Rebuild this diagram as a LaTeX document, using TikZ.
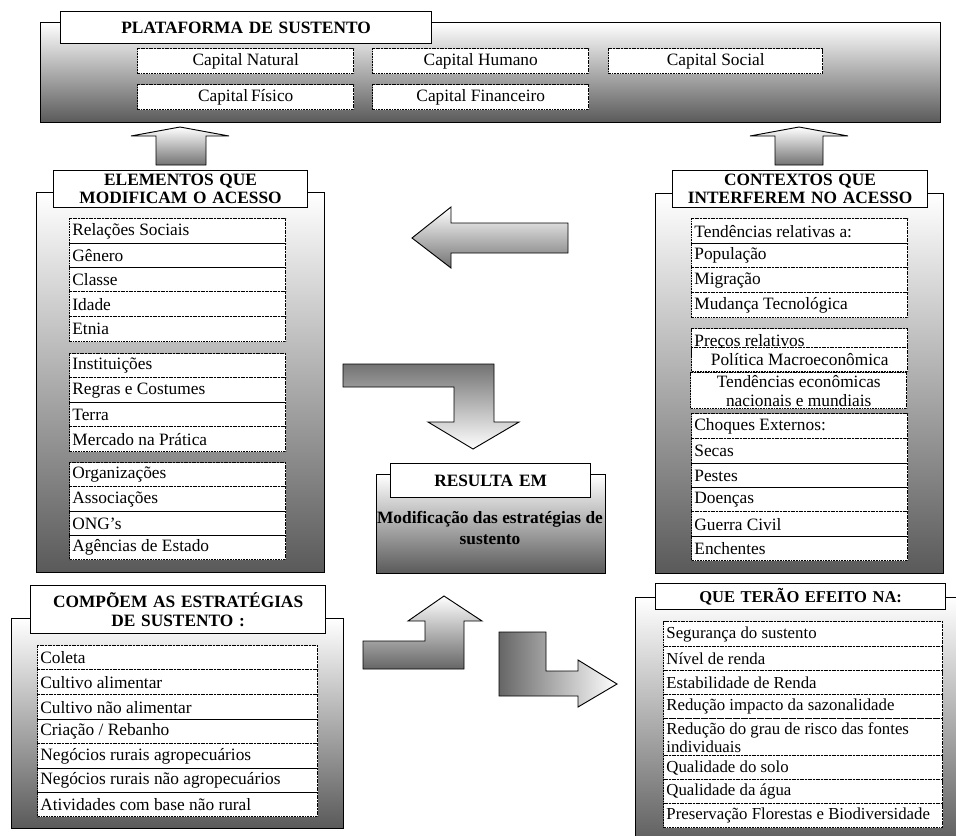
\documentclass[tikz,border=0pt]{standalone}
\usepackage{fontspec}
\setmainfont{Liberation Serif}
\tikzset{
 panel/.style={draw=black, line width=0.9pt, top color=white, bottom color=black!65, inner sep=0pt},
 titlebox/.style={draw=black, fill=white, line width=0.9pt, align=center, inner sep=0pt, font=\fontsize{13}{13.8}\selectfont\bfseries},
 cell/.style={draw=black, dash pattern=on 0.8pt off 0.4pt, line width=1.1pt, fill=white, align=flush left, inner xsep=2pt, inner ysep=0pt, font=\fontsize{13}{14.5}\selectfont},
 ccell/.style={cell, align=flush center},
 smallcell/.style={cell, font=\fontsize{12.6}{13.4}\selectfont},
 smalltitle/.style={titlebox, font=\fontsize{12.4}{13}\selectfont\bfseries},
 blockarrow/.style={draw=black, line width=0.7pt, line join=miter},
}
\newcommand{\mybox}[7]{%
 \pgfmathsetmacro\mybw{(#5-#3)*0.75}%
 \pgfmathsetmacro\mybh{(#6-#4)*0.75}%
 \pgfmathsetmacro\mytw{(#5-#3)*0.75-4}%
 \node[#1, minimum width=\mybw pt, minimum height=\mybh pt, text width=\mytw pt, anchor=north west] (#2) at (#3,#4) {#7};}
\begin{document}
\begin{tikzpicture}[x=0.75pt,y=-0.75pt]
\useasboundingbox (0,0) rectangle (956,835);
\clip (0,0) rectangle (956,835);

% ---------- PLATAFORMA ----------
\mybox{panel}{plat}{40}{22}{940}{122}{}
\mybox{titlebox}{platT}{60}{11}{431}{43}{PLATAFORMA DE SUSTENTO}
\mybox{ccell}{cnat}{137}{48}{353}{73}{Capital Natural}
\mybox{ccell}{chum}{372}{48}{588}{73}{Capital Humano}
\mybox{ccell}{csoc}{608}{48}{822}{73}{Capital Social}
\mybox{ccell}{cfis}{137}{84}{353}{109}{Capital\,Físico}
\mybox{ccell}{cfin}{372}{84}{588}{109}{Capital Financeiro}

% ---------- up arrows ----------
\draw[blockarrow, top color=white, bottom color=black!55]
 (156,165) -- (156,136) -- (131,136) -- (180,127) -- (229,136) -- (206,136) -- (206,165) -- cycle;
\draw[blockarrow, top color=white, bottom color=black!55]
 (775,165) -- (775,136) -- (750,136) -- (799,127) -- (848,136) -- (823,136) -- (823,165) -- cycle;

% ---------- ELEMENTOS ----------
\mybox{panel}{elem}{36}{192}{324}{572}{}
\mybox{titlebox}{elemT}{53}{170}{307}{207}{ELEMENTOS QUE\\MODIFICAM O ACESSO}
\mybox{cell}{e1}{69}{218}{285}{243}{Relações Sociais}
\mybox{cell}{e2}{69}{243}{285}{267}{Gênero}
\mybox{cell}{e3}{69}{267}{285}{291}{Classe}
\mybox{cell}{e4}{69}{291}{285}{316}{Idade}
\mybox{cell}{e5}{69}{316}{285}{341}{Etnia}
\mybox{cell}{e6}{69}{353}{285}{377}{Instituições}
\mybox{cell}{e7}{69}{377}{285}{402}{Regras e Costumes}
\mybox{cell}{e8}{69}{402}{285}{426}{Terra}
\mybox{cell}{e9}{69}{426}{285}{451}{Mercado na Prática}
\mybox{cell}{e10}{69}{462}{285}{486}{Organizações}
\mybox{cell}{e11}{69}{486}{285}{511}{Associações}
\mybox{cell}{e12}{69}{511}{285}{535}{ONG’s}
\mybox{cell}{e13}{69}{535}{285}{559}{Agências de Estado}

% ---------- CONTEXTOS ----------
\mybox{panel}{ctx}{655}{193}{943}{573}{}
\mybox{titlebox}{ctxT}{672}{170}{927}{207}{CONTEXTOS QUE\\INTERFEREM NO ACESSO}
\mybox{cell}{c1}{691}{218}{907}{243}{Tendências relativas a:}
\mybox{cell}{c2}{691}{243}{907}{267}{População}
\mybox{cell}{c3}{691}{267}{907}{292}{Migração}
\mybox{cell}{c4}{691}{292}{907}{317}{Mudança Tecnológica}
\mybox{cell}{c5}{691}{328}{907}{356}{Preços relativos}
\mybox{ccell}{c6}{691}{347}{907}{371}{Política Macroeconômica}
\mybox{ccell}{c7}{690}{372}{906}{408}{Tendências econômicas\\nacionais e mundiais}
\mybox{cell}{c8}{691}{413}{907}{438}{Choques Externos:}
\mybox{cell}{c9}{691}{438}{907}{463}{Secas}
\mybox{cell}{c10}{691}{463}{907}{487}{Pestes}
\mybox{cell}{c11}{691}{487}{907}{511}{Doenças}
\mybox{cell}{c12}{691}{511}{907}{536}{Guerra Civil}
\mybox{cell}{c13}{691}{536}{907}{560}{Enchentes}

% ---------- centre arrows ----------
\draw[blockarrow, top color=white, bottom color=black!55]
 (568,223) -- (451,223) -- (451,207) -- (412,238) -- (451,268) -- (451,253) -- (568,253) -- cycle;
\draw[blockarrow, top color=black!55, bottom color=white]
 (343,364) -- (494,364) -- (494,422) -- (519,422) -- (473,449) -- (428,422) -- (454,422) -- (454,387) -- (343,387) -- cycle;

% ---------- RESULTA EM ----------
\mybox{panel}{res}{376}{474}{605}{573}{}
\mybox{titlebox}{resT}{390}{463}{590}{497}{RESULTA EM}
\node[font=\fontsize{13}{16}\selectfont\bfseries, align=center, inner sep=0pt] (resB) at (490,528) {Modificação das estratégias de\\sustento};

% ---------- bottom arrows ----------
\draw[blockarrow, top color=white, bottom color=black!60]
 (363,669) -- (363,641) -- (425,641) -- (425,621) -- (408,621) -- (444,596) -- (482,621) -- (464,621) -- (464,669) -- cycle;
\draw[blockarrow, left color=black!60, right color=white]
 (499,632) -- (546,632) -- (546,671) -- (578,671) -- (578,660) -- (617,684) -- (578,707) -- (578,696) -- (499,696) -- cycle;

% ---------- COMPOEM ----------
\mybox{panel}{comp}{11}{618}{343}{828}{}
\mybox{titlebox}{compT}{30}{585}{325}{633}{COMPÕEM AS ESTRATÉGIAS\\DE SUSTENTO :}
\mybox{cell}{s1}{37}{645}{317}{669}{Coleta}
\mybox{cell}{s2}{37}{669}{317}{694}{Cultivo alimentar}
\mybox{cell}{s3}{37}{694}{317}{719}{Cultivo não alimentar}
\mybox{cell}{s4}{37}{719}{317}{743}{Criação / Rebanho}
\mybox{cell}{s5}{37}{743}{317}{768}{Negócios rurais agropecuários}
\mybox{cell}{s6}{37}{768}{317}{792}{Negócios rurais não agropecuários}
\mybox{cell}{s7}{37}{792}{317}{816}{Atividades com base não rural}

% ---------- QUE TERAO ----------
\mybox{panel}{efe}{635}{597}{968}{850}{}
\mybox{smalltitle}{efeT}{655}{583}{945}{609}{QUE TERÃO EFEITO NA:}
\mybox{smallcell}{r1}{663}{621}{942}{646}{Segurança do sustento}
\mybox{smallcell}{r2}{663}{646}{942}{670}{Nível de renda}
\mybox{smallcell}{r3}{663}{670}{942}{694}{Estabilidade de Renda}
\mybox{smallcell}{r4}{663}{694}{942}{718}{Redução impacto da sazonalidade}
\mybox{smallcell}{r5}{663}{718}{942}{755}{Redução do grau de risco das fontes\\individuais}
\mybox{smallcell}{r6}{663}{755}{942}{779}{Qualidade do solo}
\mybox{smallcell}{r7}{663}{779}{942}{803}{Qualidade da água}
\mybox{smallcell}{r8}{663}{803}{942}{827}{Preservação Florestas e Biodiversidade}
\end{tikzpicture}
\end{document}
